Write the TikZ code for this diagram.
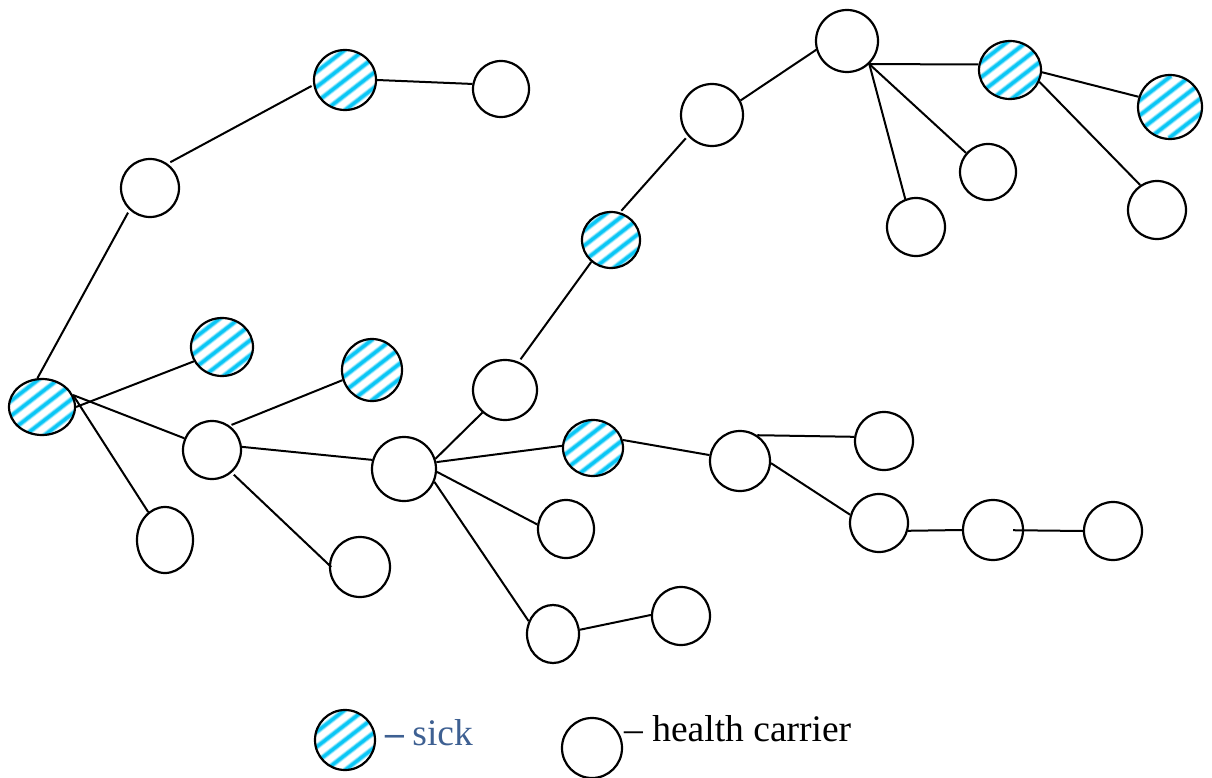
\documentclass[tikz,border=0pt]{standalone}
\usepackage{fontspec}
\setmainfont{Liberation Serif}
\usetikzlibrary{shapes.geometric}
\definecolor{stripe}{RGB}{10,198,245}
\definecolor{sicktext}{RGB}{62,96,146}
\tikzset{
  person/.style={ellipse, draw=black, line width=2.2pt, inner sep=0pt, fill=white},
  % diagonal cyan stripes, soft-edged, clipped to the ellipse
  sick/.style={person,
    path picture={
      \begin{scope}[shift={(path picture bounding box.center)}]
        \foreach \k in {-4,...,4}{
          \draw[stripe!25, line width=6pt] (\k*19.5-40,31) -- (\k*19.5+40,-31);
          \draw[stripe!65, line width=4.4pt] (\k*19.5-40,31) -- (\k*19.5+40,-31);
          \draw[stripe, line width=2.8pt] (\k*19.5-40,31) -- (\k*19.5+40,-31);
        }
      \end{scope}}},
  link/.style={draw=black, line width=2pt},
  sz/.style 2 args={minimum width=#1pt, minimum height=#2pt},
  legend/.style={font=\fontsize{37.5}{42}\selectfont, inner sep=0pt, anchor=base west}
}
\begin{document}
\begin{tikzpicture}[x=1pt,y=-1pt]
\useasboundingbox (0,0) rectangle (1212,778);

% infected persons
\node[sick, sz={62}{60}] (s1) at (345,80) {};
\node[sick, sz={62}{58}] (s2) at (1010,70) {};
\node[sick, sz={64}{64}] (s3) at (1170,107) {};
\node[sick, sz={58}{56}] (s4) at (611,240) {};
\node[sick, sz={62}{58}] (s5) at (222,347) {};
\node[sick, sz={60}{62}] (s6) at (372,370) {};
\node[sick, sz={66}{56}] (s7) at (42,407) {};
\node[sick, sz={60}{56}] (s8) at (593,448) {};

% healthy carriers
\node[person, sz={56}{56}] (p1) at (501,89) {};
\node[person, sz={58}{58}] (p2) at (150,188) {};
\node[person, sz={62}{62}] (p3) at (847,41) {};
\node[person, sz={62}{62}] (p4) at (712,115) {};
\node[person, sz={56}{56}] (p5) at (988,172) {};
\node[person, sz={58}{58}] (p6) at (916,227) {};
\node[person, sz={58}{58}] (p7) at (1157,210) {};
\node[person, sz={64}{60}] (p8) at (505,390) {};
\node[person, sz={58}{58}] (p9) at (212,450) {};
\node[person, sz={64}{64}] (p10) at (404,469) {};
\node[person, sz={58}{58}] (p11) at (884,441) {};
\node[person, sz={60}{60}] (p12) at (740,461) {};
\node[person, sz={56}{58}] (p13) at (566,529) {};
\node[person, sz={56}{66}] (p14) at (165,540) {};
\node[person, sz={60}{60}] (p15) at (360,567) {};
\node[person, sz={58}{58}] (p16) at (879,523) {};
\node[person, sz={60}{60}] (p17) at (993,530) {};
\node[person, sz={58}{58}] (p18) at (1113,531) {};
\node[person, sz={52}{58}] (p19) at (553,634) {};
\node[person, sz={58}{58}] (p20) at (681,616) {};

% contacts
\draw[link, shorten <=3pt, shorten >=2pt] (p2.54) -- (s1.189);
\draw[link] (s1.0) -- (p1.170);
\draw[link, shorten <=3pt] (p2.227) -- (s7.99);
\draw[link] (s7.0) -- (s5.207);
\draw[link] (s7.21) -- (p9.157);
\draw[link] (s7.21) -- (p14.121);
\draw[link, shorten <=2pt] (p9.54) -- (s6.199);
\draw[link] (p9.6) -- (p10.164);
\draw[link, shorten <=3pt, shorten >=-3pt] (p9.311) -- (p15.176);
\draw[link] (p10.18) -- (p8.225);
\draw[link, shorten <=3pt] (p8.64) -- (s4.228);
\draw[link, shorten <=2pt, shorten >=3pt] (s4.72) -- (p4.221);
\draw[link] (p4.27) -- (p3.196);
\draw[link] (p3.314) -- (s2.170);
\draw[link] (p3.314) -- (p6.111);
\draw[link] (p3.314) -- (p5.139);
\draw[link] (s2.356) -- (s3.162);
\draw[link] (s2.338) -- (p7.124);
\draw[link] (p10.12) -- (s8.176);
\draw[link] (p10.355) -- (p13.171);
\draw[link] (p10.337) -- (p19.152);
\draw[link] (s8.15) -- (p12.169);
\draw[link] (p12.56) -- (p11.172);
\draw[link] (p12.356) -- (p16.164);
\draw[link] (p16.345) -- (p17.180);
\draw[link, shorten <=20pt] (p17.center) -- (p18.180);
\draw[link] (p19.9) -- (p20.178);

% legend
\node[sick, sz={60}{60}] (ls) at (345,740) {};
\node[legend, text=sicktext] (lst) at (385,745) {\textbf{–}\hspace{0.22em}sick};
\node[person, sz={60}{60}] (lp) at (592,748) {};
\node[legend] (lpt) at (624,741) {– health carrier};
\end{tikzpicture}
\end{document}
